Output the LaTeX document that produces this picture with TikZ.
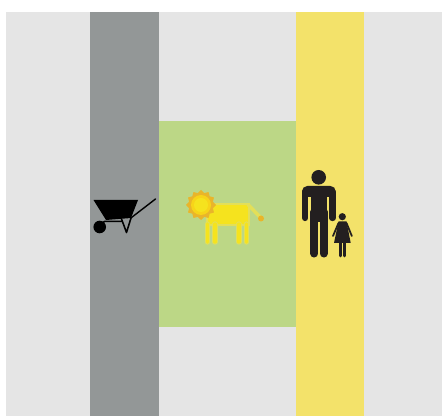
\documentclass[tikz,border=0pt]{standalone}
\usepackage{tikz}
\usetikzlibrary{shapes.geometric}
\usepackage{xcolor}
\definecolor{pavement}{HTML}{E5E5E5}
\definecolor{cartlane}{HTML}{939797}
\definecolor{lionzone}{HTML}{BCD786}
\definecolor{walklane}{HTML}{F3E26A}
\definecolor{figure}{HTML}{231F20}
\definecolor{lionbody}{HTML}{F5E31E}
\definecolor{lionedge}{HTML}{E3DF58}
\definecolor{lionmane}{HTML}{E9B52A}
\begin{document}
\begin{tikzpicture}[x=0.1mm,y=-0.1mm,line cap=round,line join=round]
\useasboundingbox (0,0) rectangle (442,416);
\fill[pavement] (6,12) rectangle (442,416);
\fill[cartlane] (90,12) rectangle (159,416);
\fill[lionzone] (159,121) rectangle (296,327);
\fill[walklane] (296,12) rectangle (364,416);
% wheelbarrow
\fill[black] (93.5,200) -- (138,200) -- (131,218) -- (106,220) -- cycle;
\draw[black,line width=0.4pt] (131.5,217.5) -- (155.5,199);
\draw[black,line width=0.45pt] (102,223) -- (105,221.3) -- (122,221.3);
\draw[black,line width=0.45pt] (121.5,219) -- (126.5,232.5) -- (131,218);
\fill[black] (99.7,227) circle (6.3);
% lion
\fill[lionedge] (205.5,203) rectangle (250,226);
\fill[lionbody] (207.5,205) rectangle (248,224);
\draw[lionedge,line width=1.5pt] (207.5,224) -- (207.5,242);
\draw[lionedge,line width=1.5pt] (215,224) -- (215,242);
\draw[lionedge,line width=1.5pt] (239,224) -- (239,242);
\draw[lionedge,line width=1.5pt] (246.5,224) -- (246.5,242);
\draw[lionbody,line width=0.9pt] (207.5,224) -- (207.5,242);
\draw[lionbody,line width=0.9pt] (215,224) -- (215,242);
\draw[lionbody,line width=0.9pt] (239,224) -- (239,242);
\draw[lionbody,line width=0.9pt] (246.5,224) -- (246.5,242);
\draw[lionedge,line width=1pt] (248,204.5) -- (260,217);
\fill[lionmane] (261,218.5) circle (3);
\node[star,star points=12,star point ratio=1.22,fill=lionmane,inner sep=0pt,minimum size=3mm] (mane) at (201,205) {};
\fill[lionbody!85!orange] (201,205) circle (10);
\fill[lionbody] (201,205) circle (7);
% man
\fill[figure] (318.7,177.3) circle (7.3);
\fill[figure,rounded corners=1.5pt] (302,197) -- (302,186) -- (335.7,186) -- (335.7,197) -- cycle;
\fill[figure] (310.7,190) rectangle (327.3,222);
\draw[figure,line width=1.8pt] (305.2,192) -- (305.2,218);
\draw[figure,line width=1.8pt] (332.5,192) -- (332.5,218);
\draw[figure,line width=2.3pt] (314.3,212) -- (314.3,253.5);
\draw[figure,line width=2.3pt] (323.7,212) -- (323.7,253.5);
% girl
\fill[figure] (342.3,216.7) circle (3.6);
\fill[figure] (338.5,221.5) -- (346.5,221.5) -- (350.7,243) -- (334,243) -- cycle;
\draw[figure,line width=0.5pt] (338.5,223) -- (333,236);
\draw[figure,line width=0.5pt] (346.5,223) -- (351.8,236);
\draw[figure,line width=0.8pt] (340.2,242) -- (340.2,256);
\draw[figure,line width=0.8pt] (344.8,242) -- (344.8,256);
\end{tikzpicture}
\end{document}
